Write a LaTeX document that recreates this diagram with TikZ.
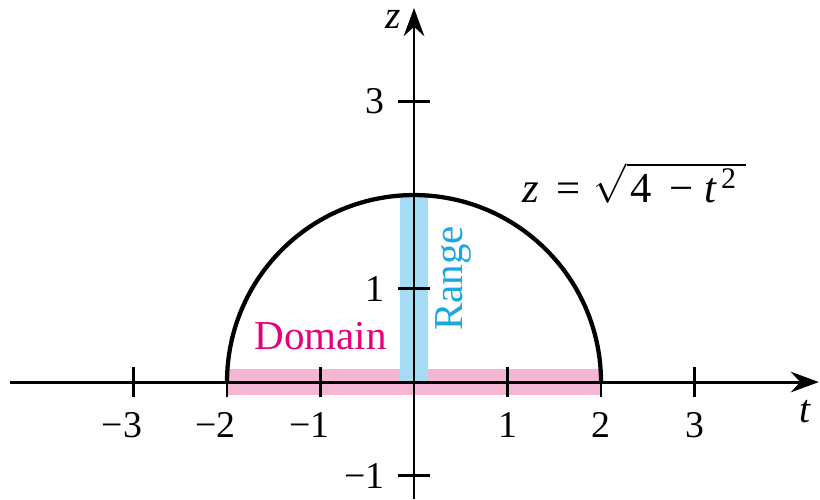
\documentclass[tikz,border=0pt]{standalone}
\usepackage{fontspec}
\setmainfont{Liberation Serif}
\usepackage{tikz}
\usetikzlibrary{arrows.meta}
\definecolor{domaincol}{HTML}{E5007D}
\definecolor{domainband}{HTML}{F4B6D2}
\definecolor{rangecol}{HTML}{1BA8E0}
\definecolor{rangeband}{HTML}{A6DCF3}

\begin{document}
\begin{tikzpicture}[
    axis/.style={line width=0.9pt, black,
                 -{Stealth[length=3mm, width=2.2mm, inset=1mm]}},
    tick/.style={line width=0.9pt, black},
    curve/.style={line width=1.3pt, black},
    ticklbl/.style={font=\fontsize{11.5}{13}\selectfont, inner sep=0pt},
    varlbl/.style={font=\fontsize{12}{14}\selectfont\itshape, inner sep=0pt},
    bandlbl/.style={font=\fontsize{12.5}{14}\selectfont, inner sep=0pt},
  ]

  \useasboundingbox (-4.428,-1.251) rectangle (4.342,4.086);

  \def\tl{0.16}   % half tick length

  % =========================================================
  %  bands: domain on the t-axis, range on the z-axis
  % =========================================================
  \fill[domainband] (-2,-0.14) rectangle (2,0.14);
  \fill[rangeband] (-0.15,0) rectangle (0.15,2);

  % =========================================================
  %  axes
  % =========================================================
  \coordinate (tL) at (-4.32,0);
  \coordinate (tR) at (4.33,0);
  \coordinate (zB) at (0,-1.251);
  \coordinate (zT) at (0,4.0);
  \draw[axis] (tL) -- (tR);
  \draw[axis] (zB) -- (zT);

  \node[varlbl] (tlab) at (4.18,-0.32) {t};
  \node[varlbl] (zlab) at (-0.22,3.88) {z};

  % ticks on the t-axis
  \foreach \x in {-3,-2,-1,1,2,3}{
    \draw[tick] (\x,-\tl) -- (\x,\tl);
  }
  \foreach \x in {-3,-2,-1}{
    \node[ticklbl, anchor=north east] (tk\x) at (\x+0.1,-0.32) {−\the\numexpr-\x\relax};
  }
  \foreach \x in {1,2,3}{
    \node[ticklbl, anchor=north] (tk\x) at (\x,-0.32) {\x};
  }

  % ticks on the z-axis
  \foreach \y/\txt in {3/3, 1/1, -1/−1}{
    \draw[tick] (-0.17,\y) -- (0.17,\y);
    \node[ticklbl, anchor=east] (zk\y) at (-0.31,\y) {\txt};
  }

  % =========================================================
  %  upper half circle
  % =========================================================
  \draw[curve] (2,0) arc[start angle=0, end angle=180, radius=2];

  \node[bandlbl, text=domaincol] (dom) at (-1.0,0.49) {Domain};
  \node[bandlbl, text=rangecol, rotate=90] (rng) at (0.42,1.11) {Range};
  \node[font=\fontsize{13}{15}\selectfont, inner sep=0pt, anchor=base west]
    (eqn) at (1.15,1.92)
    {\textit{z}\hspace{0.42em}=\hspace{0.3em}$\sqrt{\mbox{\hspace{0.1em}4\hspace{0.4em}−\hspace{0.25em}\textit{t}\hspace{0.1em}\textsuperscript{2}\hspace{0.2em}}}$};

\end{tikzpicture}
\end{document}
